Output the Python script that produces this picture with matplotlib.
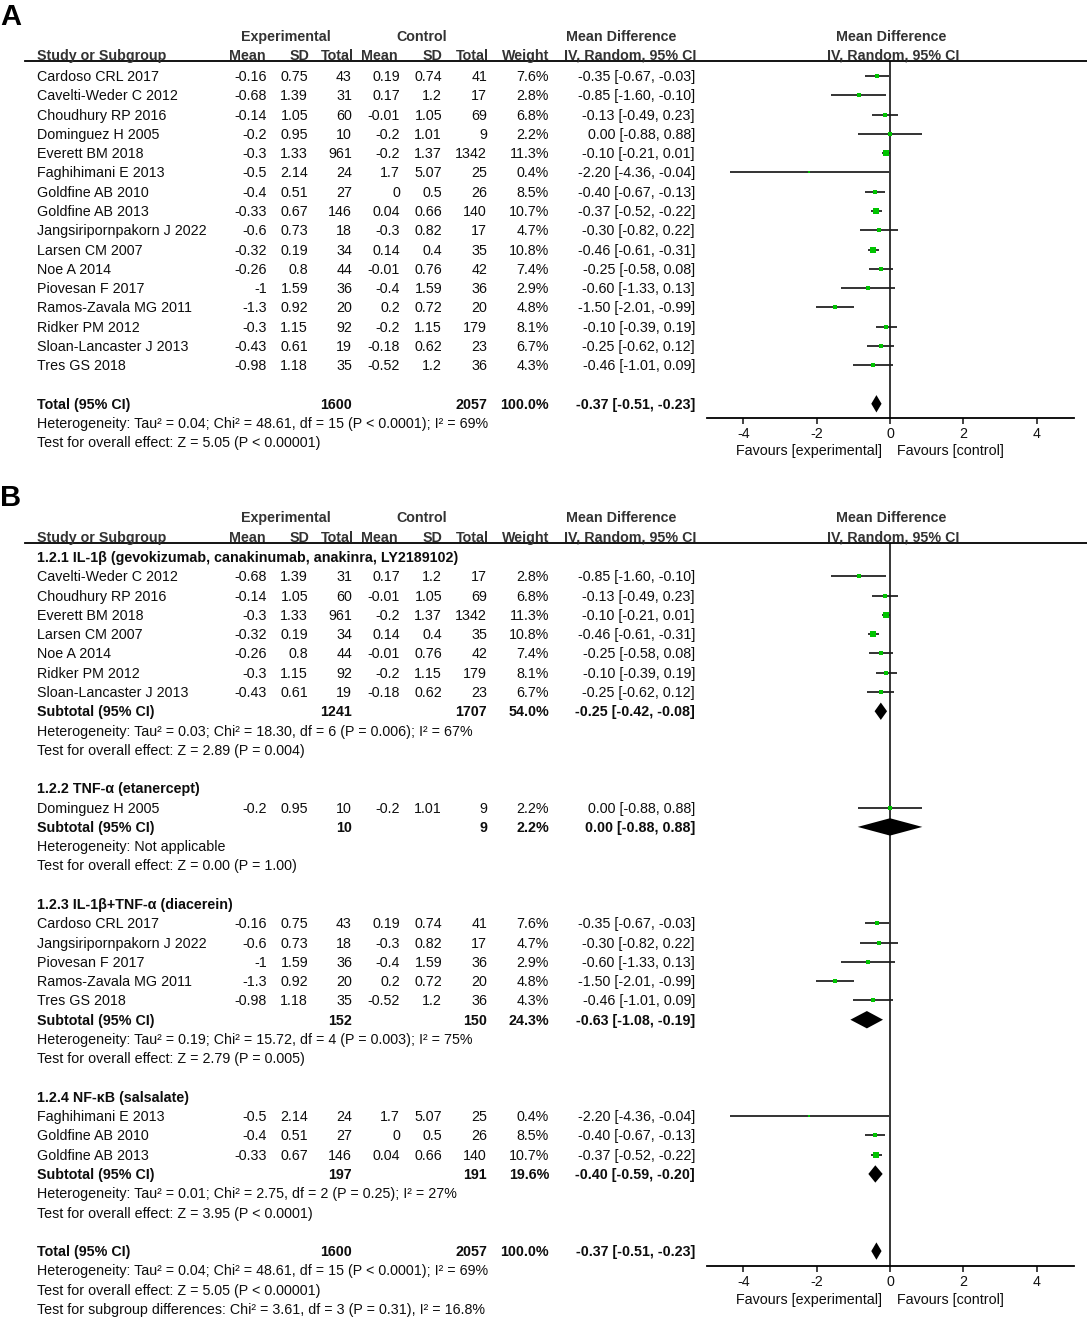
import matplotlib
matplotlib.use('Agg')
import matplotlib.pyplot as plt
from matplotlib.lines import Line2D

plt.rcParams['font.family'] = ['Liberation Sans', 'DejaVu Sans']

# ---------------- data ----------------
studies = ["Cardoso CRL 2017", "Cavelti-Weder C 2012", "Choudhury RP 2016", "Dominguez H 2005",
           "Everett BM 2018", "Faghihimani E 2013", "Goldfine AB 2010", "Goldfine AB 2013",
           "Jangsiripornpakorn J 2022", "Larsen CM 2007", "Noe A 2014", "Piovesan F 2017",
           "Ramos-Zavala MG 2011", "Ridker PM 2012", "Sloan-Lancaster J 2013", "Tres GS 2018"]
exp_mean = [-0.16, -0.68, -0.14, -0.2, -0.3, -0.5, -0.4, -0.33, -0.6, -0.32, -0.26, -1, -1.3, -0.3, -0.43, -0.98]
exp_sd = [0.75, 1.39, 1.05, 0.95, 1.33, 2.14, 0.51, 0.67, 0.73, 0.19, 0.8, 1.59, 0.92, 1.15, 0.61, 1.18]
exp_n = [43, 31, 60, 10, 961, 24, 27, 146, 18, 34, 44, 36, 20, 92, 19, 35]
ctl_mean = [0.19, 0.17, -0.01, -0.2, -0.2, 1.7, 0, 0.04, -0.3, 0.14, -0.01, -0.4, 0.2, -0.2, -0.18, -0.52]
ctl_sd = [0.74, 1.2, 1.05, 1.01, 1.37, 5.07, 0.5, 0.66, 0.82, 0.4, 0.76, 1.59, 0.72, 1.15, 0.62, 1.2]
ctl_n = [41, 17, 69, 9, 1342, 25, 26, 140, 17, 35, 42, 36, 20, 179, 23, 36]
weight = [7.6, 2.8, 6.8, 2.2, 11.3, 0.4, 8.5, 10.7, 4.7, 10.8, 7.4, 2.9, 4.8, 8.1, 6.7, 4.3]
md = [-0.35, -0.85, -0.13, 0.00, -0.10, -2.20, -0.40, -0.37, -0.30, -0.46, -0.25, -0.60, -1.50, -0.10, -0.25, -0.46]
ci_lo = [-0.67, -1.60, -0.49, -0.88, -0.21, -4.36, -0.67, -0.52, -0.82, -0.61, -0.58, -1.33, -2.01, -0.39, -0.62, -1.01]
ci_hi = [-0.03, -0.10, 0.23, 0.88, 0.01, -0.04, -0.13, -0.22, 0.22, -0.31, 0.08, 0.13, -0.99, 0.19, 0.12, 0.09]

total_exp_n, total_ctl_n, total_w = 1600, 2057, 100.0
total_md, total_lo, total_hi = -0.37, -0.51, -0.23
total_het = "Heterogeneity: Tau² = 0.04; Chi² = 48.61, df = 15 (P < 0.0001); I² = 69%"
total_z = "Test for overall effect: Z = 5.05 (P < 0.00001)"
subgroup_diff = "Test for subgroup differences: Chi² = 3.61, df = 3 (P = 0.31), I² = 16.8%"

group_names = ["1.2.1 IL-1β (gevokizumab, canakinumab, anakinra, LY2189102)",
               "1.2.2 TNF-α (etanercept)",
               "1.2.3 IL-1β+TNF-α (diacerein)",
               "1.2.4 NF-κB (salsalate)"]
group_members = [[1, 2, 4, 9, 10, 13, 14], [3], [0, 8, 11, 12, 15], [5, 6, 7]]
sub_exp_n = [1241, 10, 152, 197]
sub_ctl_n = [1707, 9, 150, 191]
sub_w = [54.0, 2.2, 24.3, 19.6]
sub_md = [-0.25, 0.00, -0.63, -0.40]
sub_lo = [-0.42, -0.88, -1.08, -0.59]
sub_hi = [-0.08, 0.88, -0.19, -0.20]
sub_het = ["Heterogeneity: Tau² = 0.03; Chi² = 18.30, df = 6 (P = 0.006); I² = 67%",
           "Heterogeneity: Not applicable",
           "Heterogeneity: Tau² = 0.19; Chi² = 15.72, df = 4 (P = 0.003); I² = 75%",
           "Heterogeneity: Tau² = 0.01; Chi² = 2.75, df = 2 (P = 0.25); I² = 27%"]
sub_z = ["Test for overall effect: Z = 2.89 (P = 0.004)",
         "Test for overall effect: Z = 0.00 (P = 1.00)",
         "Test for overall effect: Z = 2.79 (P = 0.005)",
         "Test for overall effect: Z = 3.95 (P < 0.0001)"]

xticks = [-4, -2, 0, 2, 4]

# ---------------- layout ----------------
W, H = 1087, 1318
STEP = 19.28
FS = 10.3
HDR = '#333333'
TXT = '#0d0d0d'
GREEN = '#00c400'
YOFF = 1.0

fig = plt.figure(figsize=(W / 100, H / 100), dpi=100)


def fx(x):
    return x / W


def fy(y):
    return 1 - y / H


def txt(x, y, s, ha='left', bold=False, color=TXT, size=FS):
    fig.text(fx(x), fy(y + YOFF), s, ha=ha, va='center', fontsize=size,
             fontweight='bold' if bold else 'normal', color=color)


def ci_str(m, lo, hi):
    return f"{m:.2f} [{lo:.2f}, {hi:.2f}]"


def study_row(i, y):
    txt(37, y, studies[i])
    txt(267, y, f"{exp_mean[i]:g}", 'right')
    txt(308, y, f"{exp_sd[i]:g}", 'right')
    txt(352, y, f"{exp_n[i]}", 'right')
    txt(400, y, f"{ctl_mean[i]:g}", 'right')
    txt(442, y, f"{ctl_sd[i]:g}", 'right')
    txt(487, y, f"{ctl_n[i]}", 'right')
    txt(549, y, f"{weight[i]:.1f}%", 'right')
    txt(695, y, ci_str(md[i], ci_lo[i], ci_hi[i]), 'right')


def summary_row(label, ne, nc, w, m, lo, hi, y):
    txt(37, y, label, bold=True)
    txt(352, y, f"{ne}", 'right', bold=True)
    txt(487, y, f"{nc}", 'right', bold=True)
    txt(549, y, f"{w:.1f}%", 'right', bold=True)
    txt(695, y, ci_str(m, lo, hi), 'right', bold=True)


def header(y1, y2, yline):
    txt(286, y1, "Experimental", 'center', True, HDR)
    txt(422, y1, "Control", 'center', True, HDR)
    txt(566, y1, "Mean Difference", 'left', True, HDR)
    txt(891, y1, "Mean Difference", 'center', True, HDR)
    txt(37, y2, "Study or Subgroup", 'left', True, HDR)
    txt(266, y2, "Mean", 'right', True, HDR)
    txt(309, y2, "SD", 'right', True, HDR)
    txt(354, y2, "Total", 'right', True, HDR)
    txt(398, y2, "Mean", 'right', True, HDR)
    txt(442, y2, "SD", 'right', True, HDR)
    txt(489, y2, "Total", 'right', True, HDR)
    txt(549, y2, "Weight", 'right', True, HDR)
    txt(564, y2, "IV, Random, 95% CI", 'left', True, HDR)
    txt(893, y2, "IV, Random, 95% CI", 'center', True, HDR)
    fig.add_artist(Line2D([fx(25), 1.0], [fy(yline), fy(yline)], transform=fig.transFigure,
                          color='black', lw=1.3))


def forest_ax(top_px, bottom_px, y0_px):
    ax = fig.add_axes([fx(706.5), fy(bottom_px), (1073.5 - 706.5) / W, (bottom_px - top_px) / H])
    ax.set_xlim(-5, 5)
    ax.set_ylim((bottom_px - y0_px) / STEP, (top_px - y0_px) / STEP)
    for s in ('top', 'left', 'right'):
        ax.spines[s].set_visible(False)
    ax.spines['bottom'].set_linewidth(1.3)
    ax.set_xticks(xticks)
    ax.set_xticklabels([str(t) for t in xticks])
    ax.tick_params(axis='x', direction='out', length=4, width=1.1, pad=2.5, labelsize=FS, colors='#111111')
    ax.set_yticks([])
    ax.axvline(0, color='black', lw=1.1, zorder=1)
    ax.patch.set_alpha(0)
    return ax


def draw_study(ax, i, r):
    ax.hlines(r, ci_lo[i], ci_hi[i], color='#1a1a1a', lw=1.25, zorder=2)
    side = (2.4 + 0.3 * weight[i]) * 0.72
    ax.scatter([md[i]], [r], marker='s', s=side ** 2, color=GREEN, linewidths=0, zorder=3)


def draw_diamond(ax, m, lo, hi, r, h=0.45):
    ax.fill([lo, m, hi, m], [r, r - h, r, r + h], color='black', lw=0, zorder=3)


def favours(y):
    txt(882, y, "Favours [experimental]", 'right')
    txt(897, y, "Favours [control]", 'left')


# ---------------- Panel A ----------------
fig.text(fx(0), fy(17), "A", ha='left', va='center', fontsize=21, fontweight='bold', color='black')
header(36, 55, 61)
y0A = 76
axA = forest_ax(61, 418, y0A)
for i in range(len(studies)):
    study_row(i, y0A + i * STEP)
    draw_study(axA, i, i)
rT = len(studies) + 1
summary_row("Total (95% CI)", total_exp_n, total_ctl_n, total_w, total_md, total_lo, total_hi, y0A + rT * STEP)
draw_diamond(axA, total_md, total_lo, total_hi, rT)
txt(37, y0A + (rT + 1) * STEP, total_het)
txt(37, y0A + (rT + 2) * STEP, total_z)
favours(450)

# ---------------- Panel B ----------------
fig.text(fx(0), fy(498), "B", ha='left', va='center', fontsize=21, fontweight='bold', color='black')
header(517, 537, 543)
y0B = 557
axB = forest_ax(543, 1266, y0B)
r = 0
for g in range(len(group_names)):
    txt(37, y0B + r * STEP, group_names[g], bold=True)
    r += 1
    for i in group_members[g]:
        study_row(i, y0B + r * STEP)
        draw_study(axB, i, r)
        r += 1
    summary_row("Subtotal (95% CI)", sub_exp_n[g], sub_ctl_n[g], sub_w[g], sub_md[g], sub_lo[g], sub_hi[g],
                y0B + r * STEP)
    draw_diamond(axB, sub_md[g], sub_lo[g], sub_hi[g], r)
    r += 1
    txt(37, y0B + r * STEP, sub_het[g])
    r += 1
    txt(37, y0B + r * STEP, sub_z[g])
    r += 2
summary_row("Total (95% CI)", total_exp_n, total_ctl_n, total_w, total_md, total_lo, total_hi, y0B + r * STEP)
draw_diamond(axB, total_md, total_lo, total_hi, r)
txt(37, y0B + (r + 1) * STEP, total_het)
txt(37, y0B + (r + 2) * STEP, total_z)
txt(37, y0B + (r + 3) * STEP, subgroup_diff)
favours(1299)

fig.savefig("out.png", dpi=100)
